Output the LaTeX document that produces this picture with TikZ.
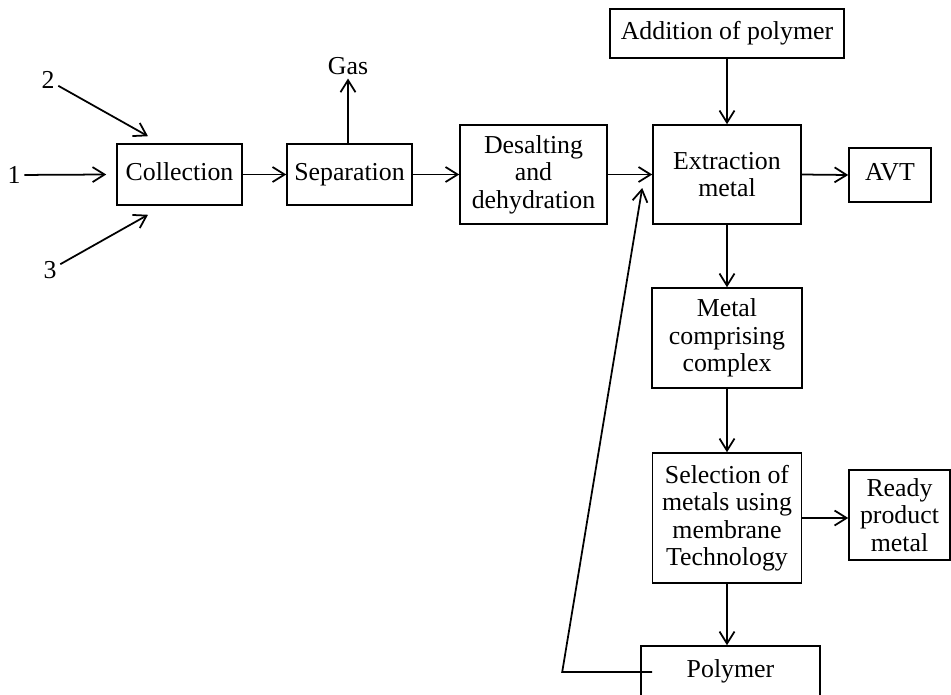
\documentclass[tikz,border=0pt]{standalone}
\usepackage{fontspec}
\setmainfont{Liberation Serif}
\usetikzlibrary{arrows.meta,calc}

\tikzset{
	box/.style={draw, line width=0.9pt, align=center, inner sep=0pt, font=\fontsize{14.7}{15.6}\selectfont},
	oneline/.style={text height=0.66em, text depth=0pt},
	lbl/.style={inner sep=2pt, font=\fontsize{14.7}{15.6}\selectfont},
	arr/.style={line width=1pt, -{Straight Barb[length=0.24cm,width=0.3cm,line width=1pt]}}
}

\begin{document}
\begin{tikzpicture}[x=1cm, y=-1cm]
	\clip (0,0) rectangle (19.02,13.88);
	%\draw[thick] (0,0) rectangle (19.02,13.88);
	\node[box, oneline, minimum width=2.50cm, minimum height=1.22cm] (coll) at (3.59,3.49) {Collection};
	\node[box, oneline, minimum width=2.50cm, minimum height=1.22cm] (sep) at (6.99,3.49) {Separation};
	\node[box, minimum width=2.94cm, minimum height=1.98cm] (desalt) at (10.67,3.49) {Desalting\\and\\dehydration};
	\node[box, minimum width=2.96cm, minimum height=1.98cm] (extr) at (14.54,3.49) {Extraction\\metal};
	\node[box, oneline, minimum width=4.68cm, minimum height=0.98cm] (addp) at (14.54,0.67) {Addition of polymer};
	\node[box, oneline, minimum width=1.64cm, minimum height=1.08cm] (avt) at (17.80,3.50) {AVT};
	\node[box, minimum width=3.00cm, minimum height=2.00cm] (metal) at (14.54,6.76) {Metal\\comprising\\complex};
	\node[box, minimum width=2.98cm, minimum height=2.60cm] (select) at (14.54,10.36) {Selection of\\metals using\\membrane\\Technology};
	\node[box, minimum width=2.02cm, minimum height=1.80cm] (ready) at (17.99,10.30) {Ready\\product\\metal};
	\node[box, oneline, minimum width=3.58cm, minimum height=1.04cm] (poly) at (14.61,13.44) {Polymer};

	\node[lbl] (gas) at (6.96,1.32) {Gas};
	\node[lbl] (in1) at (0.28,3.50) {1};
	\node[lbl] (in2) at (0.96,1.60) {2};
	\node[lbl] (in3) at (1.00,5.40) {3};

	% inputs
	\draw[arr] (in1) -- ($(coll.west)+(-0.2,0)$);
	\draw[arr] (in2) -- ($(coll.north)+(-0.63,-0.14)$);
	\draw[arr] (in3) -- ($(coll.south)+(-0.63,0.18)$);

	\draw[arr] (coll.east) -- (sep.west);
	\draw[arr] (sep.north -| gas.south) -- (gas.south);
	\draw[arr] (sep.east) -- (desalt.west);
	\draw[arr] (desalt.east) -- (extr.west);
	\draw[arr] (addp.south) -- (extr.north);
	\draw[arr] (extr.east) -- (avt.west);
	\draw[arr] (extr.south) -- (metal.north);
	\draw[arr] (metal.south) -- (metal.south |- select.north);
	\draw[arr] (select.east) -- (select.east -| ready.west);
	\draw[arr] (select.south) -- (select.south |- poly.north);

	% polymer back to extraction
	\coordinate (fbstart) at ($(poly.west)+(0.24,0)$);
	\coordinate (fbturn) at ($(fbstart)+(-1.80,0)$);
	\coordinate (fbtip) at ($(extr.west)+(-0.20,0.27)$);
	\draw[arr] (fbstart) -- (fbturn) -- (fbtip);
\end{tikzpicture}
\end{document}
